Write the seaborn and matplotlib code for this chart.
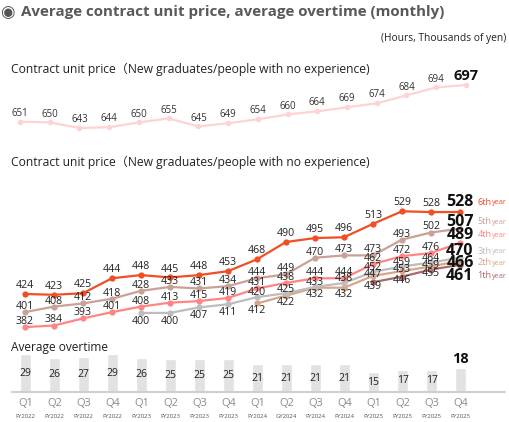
import numpy as np
import pandas as pd
import matplotlib
matplotlib.use("Agg")
import matplotlib.pyplot as plt
import matplotlib.transforms as mtrans
import seaborn as sns

# ---- data ----
quarters = ["Q1", "Q2", "Q3", "Q4"] * 4
fiscal_years = ["FY2022"] * 4 + ["FY2023"] * 4 + ["FY2024", "GY2024", "FY2024", "FY2024"] + ["FY2025"] * 4

new_grad = [651, 650, 643, 644, 650, 655, 645, 649, 654, 660, 664, 669, 674, 684, 694, 697]

year6 = [424, 423, 425, 444, 448, 445, 448, 453, 468, 490, 495, 496, 513, 529, 528, 528]
year5 = [401, 408, 412, 418, 428, 433, 431, 434, 444, 449, 470, 473, 473, 493, 502, 507]
year4 = [382, 384, 393, 401, 408, 413, 415, 419, 431, 438, 444, 444, 462, 472, 476, 489]
year3 = [None] * 4 + [400, 400, 407, 411, 420, 425, 433, 438, 452, 459, 464, 470]
year2 = [None] * 8 + [412, 422, 432, 432, 447, 453, 459, 466]
year1 = [None] * 12 + [439, 446, 455, 461]

series_names = ["6th year", "5th year", "4th year", "3th year", "2th year", "1th year"]
series_values = [year6, year5, year4, year3, year2, year1]

overtime = [29, 26, 27, 29, 26, 25, 25, 25, 21, 21, 21, 21, 15, 17, 17, 18]

# ---- style ----
colors = {
    "6th year": "#f04e23",
    "5th year": "#c9a196",
    "4th year": "#ff8585",
    "3th year": "#bdbdbd",
    "2th year": "#d9a587",
    "1th year": "#a86a6e",
}
# label offsets (points) above(+)/below(-) each point
label_offsets = {
    "6th year": [6] * 16,
    "5th year": [4] * 16,
    "4th year": [4] * 16,
    "3th year": [-6] * 8 + [3] * 8,
    "2th year": [-5] * 12 + [1] * 4,
    "1th year": [-3] * 16,
}
# y (data units) of the bold end labels
end_label_y = {
    "6th year": 540.5, "5th year": 515.5, "4th year": 499,
    "3th year": 478.5, "2th year": 463.5, "1th year": 447,
}

sns.set_style("white")
plt.rcParams["font.family"] = ["Open Sans", "Noto Sans CJK JP", "DejaVu Sans"]

W, H = 509, 422
fig = plt.figure(figsize=(W / 100, H / 100), dpi=100)


def px_axes(left, top, right, bottom):
    ax = fig.add_axes([left / W, 1 - bottom / H, (right - left) / W, (bottom - top) / H])
    ax.set_axis_off()
    return ax


def fig_text(x, y, s, **kw):
    fig.text(x / W, 1 - y / H, s, **kw)


# ---- headings ----
fig_text(0, 12, "◉", fontsize=12, color="#555555", va="center", ha="left",
         family=["DejaVu Sans"])
fig_text(21, 12, "Average contract unit price, average overtime (monthly)",
         fontsize=10.9, fontweight="bold", color="#595959", va="center", ha="left")
fig_text(506, 38, "(Hours, Thousands of yen)", fontsize=7.4, color="#222222",
         va="center", ha="right")
sub_title = "Contract unit price（New graduates/people with no experience)"
fig_text(11, 69, sub_title, fontsize=8.7, color="#222222", va="center", ha="left")
fig_text(11, 162, sub_title, fontsize=8.7, color="#222222", va="center", ha="left")
fig_text(11, 347, "Average overtime", fontsize=8.6, color="#222222", va="center", ha="left")

# ---- top line: new graduates ----
ax_top = px_axes(0, 60, W, 140)
x = np.arange(16)
top_df = pd.DataFrame({"x": x, "price": new_grad})
sns.lineplot(data=top_df, x="x", y="price", ax=ax_top, color="#fdd3d3",
             linewidth=1.6, marker="o", markersize=4, markeredgewidth=0)
ax_top.set_xlim(-20 / 29.73, (W - 20) / 29.73)
ax_top.set_ylim(697 - 55 / 0.796, 697 + 25 / 0.796)
ax_top.set_axis_off()
for i, v in enumerate(new_grad):
    if i == 15:
        ax_top.annotate(str(v), (i, v), xytext=(0, 6.5), textcoords="offset points",
                        ha="center", va="center", fontsize=10.5, fontweight="bold",
                        color="#111111")
    else:
        ax_top.annotate(str(v), (i, v), xytext=(0, 6), textcoords="offset points",
                        ha="center", va="center", fontsize=7, color="#333333")

# ---- middle lines: by years of experience ----
ax_mid = px_axes(0, 170, W, 335)
rows = []
for name, vals in zip(series_names, series_values):
    for i, v in enumerate(vals):
        if v is not None:
            rows.append({"x": i, "price": v, "series": name})
mid_df = pd.DataFrame(rows)
sns.lineplot(data=mid_df, x="x", y="price", hue="series", hue_order=series_names[::-1],
             palette=colors, ax=ax_mid, linewidth=1.6, marker="o", markersize=4.5,
             markeredgewidth=0, legend=False)
ax_mid.set_xlim(-25 / 29.0, (W - 25) / 29.0)
ax_mid.set_ylim(424 - 41 / 0.788, 424 + 124 / 0.788)
ax_mid.set_axis_off()

for name, vals in zip(series_names, series_values):
    for i, v in enumerate(vals[:-1]):
        if v is None:
            continue
        ax_mid.annotate(str(v), (i, v), xytext=(0, label_offsets[name][i]),
                        textcoords="offset points", ha="center", va="center",
                        fontsize=7.6, color="#222222")
    ax_mid.text(15, end_label_y[name], str(vals[-1]), ha="center", va="center",
                fontsize=11.5, fontweight="bold", color="#111111")
    num, word = name.split(" ")
    ax_mid.annotate(num, (15, end_label_y[name]), xytext=(12.5, 0),
                    textcoords="offset points", ha="left", va="center",
                    fontsize=6.6, color=colors[name])
    ax_mid.annotate(word, (15, end_label_y[name]), xytext=(23, -0.5),
                    textcoords="offset points", ha="left", va="center",
                    fontsize=5.2, color=colors[name])

# ---- bottom bars: average overtime ----
ax_bar = px_axes(0, 340, W, 392)
bar_df = pd.DataFrame({"x": [f"{q} {fy}" for q, fy in zip(quarters, fiscal_years)],
                       "hours": overtime})
sns.barplot(data=bar_df, x="x", y="hours", ax=ax_bar, color="#e3e1e1",
            width=0.41, saturation=1)
ax_bar.set_xlim(-25.5 / 29.0, (W - 25.5) / 29.0)
ax_bar.set_ylim(0, 52 / 1.31)
ax_bar.set_axis_off()
ax_bar.axhline(0, xmin=12 / W, xmax=505 / W, color="#cfcfcf", linewidth=1.5, clip_on=False)

for i, v in enumerate(overtime):
    if i == 15:
        ax_bar.annotate(str(v), (i, v), xytext=(0, 6.5), textcoords="offset points",
                        ha="center", va="center", fontsize=10.5, fontweight="bold",
                        color="#111111")
    else:
        ax_bar.text(i, v / 2, str(v), ha="center", va="center", fontsize=7.5,
                    color="#222222")

trans = mtrans.blended_transform_factory(ax_bar.transData, fig.transFigure)
for i, (q, fy) in enumerate(zip(quarters, fiscal_years)):
    ax_bar.text(i, 1 - 403 / H, q, transform=trans, ha="center", va="center",
                fontsize=8, color="#8c8c8c")
    ax_bar.text(i, 1 - 416 / H, fy, transform=trans, ha="center", va="center",
                fontsize=4.3, color="#555555")

fig.savefig("out.png", dpi=100, facecolor="white")
